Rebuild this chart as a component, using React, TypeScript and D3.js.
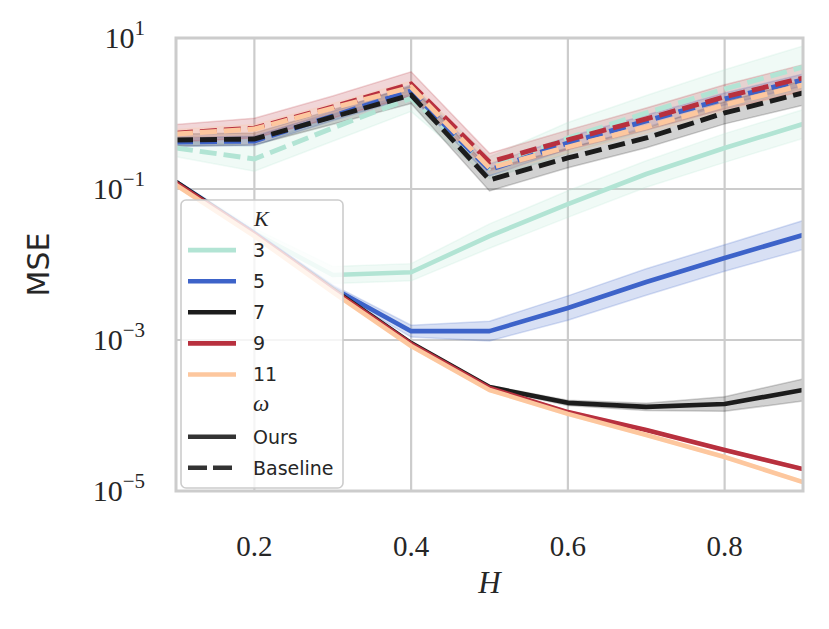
import React from "react";
import * as d3 from "d3";

// ---- data ----
const hValues = [0.1, 0.2, 0.3, 0.4, 0.5, 0.6, 0.7, 0.8, 0.9];
const kLabels = ["3", "5", "7", "9", "11"];
const kColors = ["#b2e4d4", "#3d63c9", "#1c1c1c", "#b8303e", "#fdc79e"];

// Ours (solid)
const ours3 = [0.12, 0.0261, 0.00726, 0.0079, 0.0238, 0.0632, 0.158, 0.349, 0.726];
const ours5 = [0.124, 0.0261, 0.00489, 0.00131, 0.00131, 0.00265, 0.00586, 0.0122, 0.0246];
const ours7 = [0.124, 0.0253, 0.00473, 0.000912, 0.000238, 0.000147, 0.00013, 0.000142, 0.000218];
const ours9 = [0.12, 0.0253, 0.00459, 0.000885, 0.000231, 0.000111, 6.43e-5, 3.49e-5, 1.95e-5];
const ours11 = [0.113, 0.0238, 0.00432, 0.000833, 0.000218, 0.000105, 5.52e-5, 2.82e-5, 1.31e-5];

// Baseline (dashed)
const base3 = [0.349, 0.25, 0.643, 1.6, 0.19, 0.474, 1.02, 2.11, 4.13];
const base5 = [0.419, 0.432, 0.927, 1.99, 0.179, 0.407, 0.796, 1.56, 2.78];
const base7 = [0.446, 0.459, 0.9, 1.76, 0.132, 0.258, 0.474, 1.02, 1.87];
const base9 = [0.55, 0.64, 1.22, 2.46, 0.228, 0.446, 0.846, 1.66, 2.95];
const base11 = [0.535, 0.623, 1.18, 2.24, 0.19, 0.36, 0.662, 1.3, 2.39];

// confidence band spread (multiplicative factor)
const oursSpread3 = [1.1, 1.15, 1.3, 1.3, 1.45, 1.5, 1.5, 1.55, 1.55];
const oursSpread5 = [1.06, 1.06, 1.1, 1.2, 1.35, 1.45, 1.5, 1.5, 1.55];
const oursSpread7 = [1.04, 1.04, 1.04, 1.04, 1.05, 1.08, 1.12, 1.25, 1.4];
const oursSpread9 = [1.04, 1.04, 1.04, 1.04, 1.04, 1.04, 1.04, 1.04, 1.04];
const oursSpread11 = [1.04, 1.04, 1.04, 1.04, 1.04, 1.04, 1.04, 1.04, 1.04];
const baseSpread3 = [1.3, 1.45, 1.5, 1.5, 1.4, 1.6, 1.7, 1.8, 1.9];
const baseSpread5 = [1.15, 1.15, 1.15, 1.2, 1.2, 1.2, 1.2, 1.2, 1.2];
const baseSpread7 = [1.2, 1.2, 1.25, 1.3, 1.4, 1.35, 1.35, 1.4, 1.45];
const baseSpread9 = [1.3, 1.35, 1.4, 1.45, 1.3, 1.35, 1.4, 1.45, 1.5];
const baseSpread11 = [1.15, 1.15, 1.15, 1.2, 1.2, 1.2, 1.2, 1.2, 1.2];

const xTicks = [0.2, 0.4, 0.6, 0.8];
const yTicks = [10, 0.1, 0.001, 1e-5];
const yTickExps = ["1", "\u22121", "\u22123", "\u22125"];
const legendStyles = ["Ours", "Baseline"];

const oursSeries = [ours3, ours5, ours7, ours9, ours11];
const baseSeries = [base3, base5, base7, base9, base11];
const oursSpreads = [oursSpread3, oursSpread5, oursSpread7, oursSpread9, oursSpread11];
const baseSpreads = [baseSpread3, baseSpread5, baseSpread7, baseSpread9, baseSpread11];

const L = 176, T = 38, R = 803, B = 491;
const SANS = "DejaVu Sans, sans-serif";
const SERIF = "Liberation Serif, serif";
const TXT = "#262626";
const GRID = "#cccccc";

export default function App() {
  const x = d3.scaleLinear().domain([0.1, 0.9]).range([L, R]);
  const y = d3.scaleLog().domain([1e-5, 10]).range([B, T]);

  const line = d3.line<number>().x((_, i) => x(hValues[i])).y((v) => y(v));
  const band = (vals: number[], sp: number[]) =>
    d3.area<number>()
      .x((_, i) => x(hValues[i]))
      .y0((v, i) => y(v / sp[i]))
      .y1((v, i) => y(v * sp[i]))(vals) as string;

  const bands: React.ReactNode[] = [];
  const lines: React.ReactNode[] = [];
  kLabels.forEach((k, i) => {
    const c = kColors[i];
    bands.push(
      <path key={"bo" + k} d={band(oursSeries[i], oursSpreads[i])} fill={c} fillOpacity={0.2} stroke={c} strokeOpacity={0.2} strokeWidth={1.5} />,
      <path key={"bb" + k} d={band(baseSeries[i], baseSpreads[i])} fill={c} fillOpacity={0.2} stroke={c} strokeOpacity={0.2} strokeWidth={1.5} />
    );
    lines.push(
      <path key={"lo" + k} d={line(oursSeries[i]) as string} fill="none" stroke={c} strokeWidth={4.6} strokeLinejoin="round" />,
      <path key={"lb" + k} d={line(baseSeries[i]) as string} fill="none" stroke={c} strokeWidth={4.9} strokeDasharray="17 7" />
    );
  });

  const legY0 = 219, legStep = 31.1;
  const legRows: React.ReactNode[] = [];
  legRows.push(
    <text key="kt" x={254} y={legY0 + 7} fontFamily={SERIF} fontStyle="italic" fontSize={22} fill={TXT}>K</text>
  );
  kLabels.forEach((k, i) => {
    const cy = legY0 + legStep * (i + 1);
    legRows.push(
      <g key={"lk" + k}>
        <line x1={188} x2={236} y1={cy} y2={cy} stroke={kColors[i]} strokeWidth={4.6} />
        <text x={253} y={cy + 6.8} fontFamily={SANS} fontSize={19} fill={TXT}>{k}</text>
      </g>
    );
  });
  const wy = legY0 + legStep * 6;
  legRows.push(
    <text key="wt" x={253} y={wy + 5} fontFamily={SERIF} fontStyle="italic" fontSize={23} fill={TXT}>ω</text>
  );
  legendStyles.forEach((s, j) => {
    const cy = legY0 + legStep * (7 + j);
    legRows.push(
      <g key={"ls" + s}>
        <line x1={188} x2={236} y1={cy} y2={cy} stroke="#333333" strokeWidth={4.6} strokeDasharray={j === 1 ? "19 6" : undefined} />
        <text x={253} y={cy + 6.8} fontFamily={SANS} fontSize={19} fill={TXT}>{s}</text>
      </g>
    );
  });

  return (
    <svg width={829} height={629} style={{ position: "absolute", left: 0, top: 0, background: "#fff" }}>
      <defs>
        <clipPath id="plotclip">
          <rect x={L} y={T} width={R - L} height={B - T} />
        </clipPath>
      </defs>
      <rect x={0} y={0} width={829} height={629} fill="#fff" />
      {/* grid */}
      {xTicks.map((t) => (
        <line key={"gx" + t} x1={x(t)} x2={x(t)} y1={T} y2={B} stroke={GRID} strokeWidth={2.2} />
      ))}
      {yTicks.map((t) => (
        <line key={"gy" + t} x1={L} x2={R} y1={y(t)} y2={y(t)} stroke={GRID} strokeWidth={2.2} />
      ))}
      <g clipPath="url(#plotclip)">
        {bands}
        {lines}
      </g>
      {/* frame */}
      <rect x={L} y={T} width={R - L} height={B - T} fill="none" stroke={GRID} strokeWidth={3} />
      {/* legend */}
      <rect x={181} y={200} width={162} height={288} rx={5} fill="#ffffff" fillOpacity={0.8} stroke="#cccccc" strokeWidth={1.6} />
      {legRows}
      {/* x tick labels */}
      {xTicks.map((t) => (
        <text key={"tx" + t} x={x(t)} y={556} textAnchor="middle" fontFamily={SERIF} fontSize={29} fill={TXT}>
          {t.toFixed(1)}
        </text>
      ))}
      {/* y tick labels */}
      {yTicks.map((t, i) => (
        <text key={"ty" + t} x={145} y={y(t) + 10} textAnchor="end" fontFamily={SERIF} fontSize={30} fill={TXT}>
          10<tspan dy={-13} fontSize={21}>{yTickExps[i]}</tspan>
        </text>
      ))}
      <text x={(L + R) / 2} y={593} textAnchor="middle" fontFamily={SERIF} fontStyle="italic" fontSize={31} fill={TXT}>H</text>
      <text transform={`translate(49, ${(T + B) / 2}) rotate(-90)`} textAnchor="middle" fontFamily={SANS} fontSize={30} fill={TXT}>MSE</text>
    </svg>
  );
}
